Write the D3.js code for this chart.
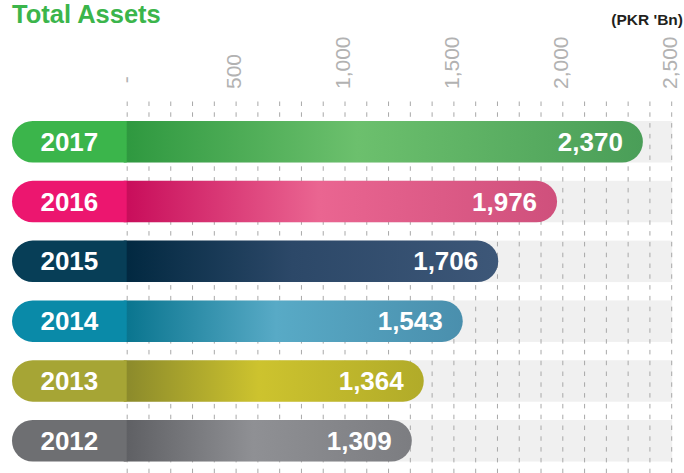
<!DOCTYPE html>
<html>
<head>
<meta charset="utf-8">
<script src="https://cdn.jsdelivr.net/npm/d3@7/dist/d3.min.js"></script>
<style>
  html, body { margin: 0; padding: 0; background: #ffffff; }
  svg { display: block; }
  text { font-family: "Liberation Sans", Arial, Helvetica, sans-serif; }
</style>
</head>
<body>
<svg id="chart" width="684" height="473"></svg>
<script>
// Total assets by year, PKR billions
const years = ["2017", "2016", "2015", "2014", "2013", "2012"];
const assets = [2370, 1976, 1706, 1543, 1364, 1309];
const axisTicks = [0, 500, 1000, 1500, 2000, 2500];
const gridStep = 100;

// Per-year palette: solid year cap, then bar gradient (left, mid, right)
const capColors = ["#3bb54b", "#ec166f", "#073e57", "#0a8aa8", "#a6a535", "#6e6f72"];
const gradLeft  = ["#2e983f", "#c80c5a", "#012840", "#08748e", "#8a892b", "#5e5f63"];
const gradMid   = ["#6cc06d", "#ea6591", "#2c4868", "#58aac6", "#cdc32e", "#8f9094"];
const gradRight = ["#4a9e58", "#cf507c", "#3d5778", "#4a8fad", "#b1ab29", "#7c7d81"];

const W = 684, H = 473;
const svg = d3.select("#chart");

const x = d3.scaleLinear().domain([0, 2500]).range([126.7, 671.2]);
const y = d3.scaleBand().domain(years).range([111.85, 470.65])
  .paddingInner(0.306).paddingOuter(0.153);
const bh = y.bandwidth();
const r = bh / 2;
const capLeft = 12;

// gradients
const defs = svg.append("defs");
years.forEach((yr, i) => {
  const g = defs.append("linearGradient").attr("id", "grad" + yr)
    .attr("x1", 0).attr("x2", 1).attr("y1", 0).attr("y2", 0);
  g.append("stop").attr("offset", 0).attr("stop-color", gradLeft[i]);
  g.append("stop").attr("offset", 0.45).attr("stop-color", gradMid[i]);
  g.append("stop").attr("offset", 1).attr("stop-color", gradRight[i]);
});

// title & unit
svg.append("text").attr("x", 12).attr("y", 22.7)
  .attr("fill", "#3bb54b").attr("font-weight", "bold").attr("font-size", 25.5)
  .text("Total Assets");
svg.append("text").attr("x", 683).attr("y", 25).attr("text-anchor", "end")
  .attr("fill", "#231f20").attr("font-weight", "bold").attr("font-size", 15.5)
  .text("(PKR 'Bn)");

// light grey tracks behind bars
svg.append("g").selectAll("rect").data(years).join("rect")
  .attr("x", x(0)).attr("y", d => y(d))
  .attr("width", x(2500) - x(0) + 1).attr("height", bh)
  .attr("fill", "#f0f0f0");

// dashed vertical gridlines
const gridTop = 101.5;
const grid = svg.append("g").attr("transform", `translate(0,${gridTop})`)
  .call(d3.axisBottom(x).tickValues(d3.range(0, 2501, gridStep))
    .tickSize(H - gridTop).tickFormat(""));
grid.select(".domain").remove();
grid.selectAll(".tick line")
  .attr("stroke", "#a8a8a8").attr("stroke-width", 1)
  .attr("stroke-dasharray", "4.5,6.3");

// rotated top axis labels
const fmt = d3.format(",");
const axisG = svg.append("g").attr("transform", "translate(0,89)")
  .call(d3.axisTop(x).tickValues(axisTicks).tickSize(0)
    .tickFormat(d => d === 0 ? "\u00a0-" : fmt(d)));
axisG.select(".domain").remove();
axisG.selectAll(".tick text")
  .attr("transform", "translate(-2,0) rotate(-90)")
  .attr("x", 0).attr("y", 0).attr("dy", "0.35em")
  .attr("text-anchor", "start")
  .attr("fill", "#b2b2b2")
  .attr("font-size", 21)
  .attr("font-family", "'Liberation Sans', Arial, sans-serif");

// bars (gradient body with rounded right end); starts a little under the cap
const rows = years.map((yr, i) => ({ yr, v: assets[i], i }));
svg.append("g").selectAll("path").data(rows).join("path")
  .attr("d", d => {
    const t = y(d.yr), x0 = x(0) - 3, x1 = x(d.v);
    return `M${x0},${t}H${x1 - r}A${r},${r} 0 0 1 ${x1 - r},${t + bh}H${x0}Z`;
  })
  .attr("fill", d => `url(#grad${d.yr})`);

// solid year caps with rounded left end
svg.append("g").selectAll("path").data(rows).join("path")
  .attr("d", d => {
    const t = y(d.yr), x0 = x(0);
    return `M${capLeft + r},${t}H${x0}V${t + bh}H${capLeft + r}A${r},${r} 0 0 1 ${capLeft + r},${t}Z`;
  })
  .attr("fill", d => capColors[d.i]);

// year labels
svg.append("g").selectAll("text").data(rows).join("text")
  .attr("x", (capLeft + x(0)) / 2)
  .attr("y", d => y(d.yr) + bh / 2).attr("dy", "0.35em")
  .attr("text-anchor", "middle").attr("fill", "#ffffff")
  .attr("font-weight", "bold").attr("font-size", 26)
  .text(d => d.yr);

// value labels
svg.append("g").selectAll("text").data(rows).join("text")
  .attr("x", d => x(d.v) - 20)
  .attr("y", d => y(d.yr) + bh / 2).attr("dy", "0.35em")
  .attr("text-anchor", "end").attr("fill", "#ffffff")
  .attr("font-weight", "bold").attr("font-size", 26)
  .text(d => fmt(d.v));
</script>
</body>
</html>
